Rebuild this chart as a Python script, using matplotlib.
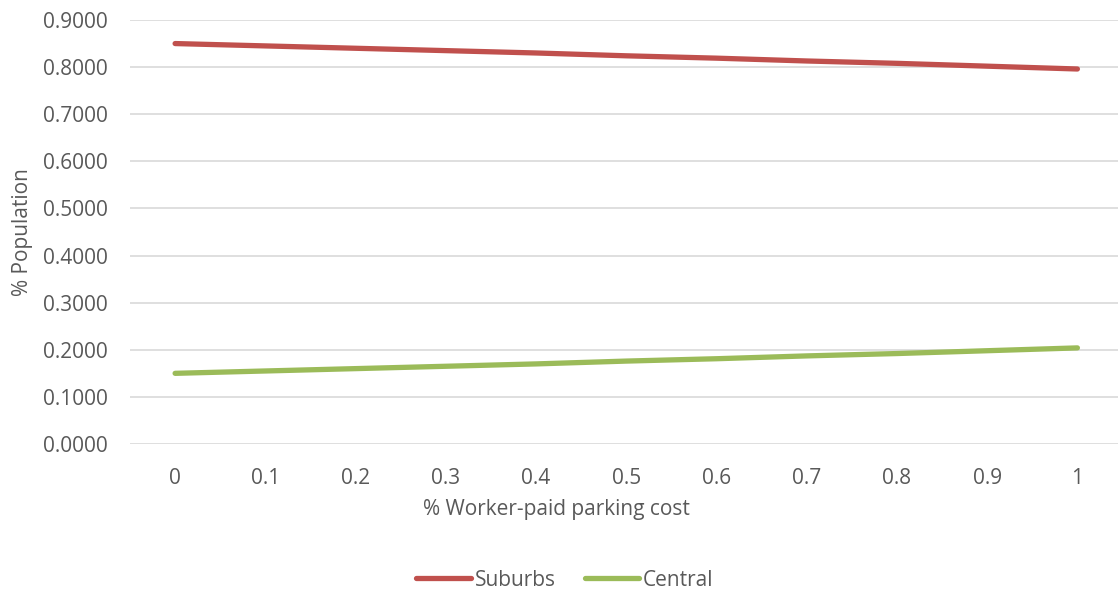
import matplotlib.pyplot as plt

# share of workers' parking cost that is paid by the worker
share_paid = ['0', '0.1', '0.2', '0.3', '0.4', '0.5', '0.6', '0.7', '0.8', '0.9', '1']
suburbs = [0.850, 0.845, 0.840, 0.835, 0.830, 0.824, 0.819, 0.813, 0.808, 0.802, 0.796]
central = [0.150, 0.155, 0.160, 0.165, 0.170, 0.176, 0.181, 0.187, 0.192, 0.198, 0.204]
y_ticks = [0.0, 0.1, 0.2, 0.3, 0.4, 0.5, 0.6, 0.7, 0.8, 0.9]

plt.rcParams['font.family'] = ['Open Sans', 'DejaVu Sans']
text_color = '#595959'
fs = 15

fig = plt.figure(figsize=(11.18, 5.94), dpi=100)
ax = fig.add_axes([130 / 1118, 1 - 444 / 594, 988 / 1118, 424 / 594])

x = list(range(len(share_paid)))
ax.plot(x, suburbs, color='#C0504D', lw=3.8, solid_capstyle='round', label='Suburbs')
ax.plot(x, central, color='#9BBB59', lw=3.8, solid_capstyle='round', label='Central')

ax.set_xlim(-0.5, len(x) - 0.55)
ax.set_ylim(0, 0.9)
ax.set_yticks(y_ticks)
ax.set_yticklabels([f'{v:.4f}' for v in y_ticks])
ax.set_xticks(x)
ax.set_xticklabels(share_paid)
ax.grid(axis='y', color='#D9D9D9', lw=1.2)
ax.set_axisbelow(True)
for s in ax.spines.values():
    s.set_visible(False)
ax.tick_params(length=0, labelsize=fs, colors=text_color)
ax.tick_params(axis='y', pad=16)
ax.tick_params(axis='x', pad=17)

# the axis title sits left of the plot centre in the original
ax.set_xlabel('% Worker-paid parking cost', fontsize=fs, color=text_color)
ax.xaxis.set_label_coords((556 - 130) / 988, (444 - 509) / 424)
ax.xaxis.label.set_va('center')
ax.set_ylabel('% Population', fontsize=fs, color=text_color, labelpad=7)

ax.legend(loc='center', bbox_to_anchor=(565 / 1118, 1 - 580 / 594), bbox_transform=fig.transFigure,
          ncol=2, frameon=False, fontsize=fs, labelcolor=text_color, handlelength=2.6,
          handletextpad=0.2, columnspacing=1.4)

fig.savefig('out.png', dpi=100)
